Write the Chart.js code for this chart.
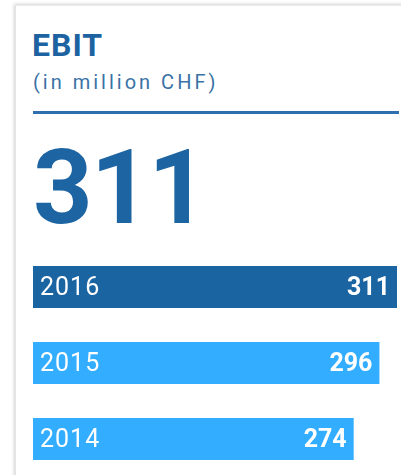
<!DOCTYPE html>
<html>
<head>
<meta charset="utf-8">
<script src="https://cdn.jsdelivr.net/npm/chart.js@4"></script>
<style>
  html, body { margin:0; padding:0; width:401px; height:475px; overflow:hidden; background:#fff; }
  .card { position:absolute; left:15px; top:5px; width:400px; height:480px; background:#fff;
          box-shadow: -1px -1px 3px rgba(0,0,0,0.18); border-left:1px solid #e4e4e4; border-top:1px solid #ececec; }
  .title { position:absolute; left:32px; top:26px; font:700 32px Roboto, sans-serif; color:#1d63a1; letter-spacing:1px; }
  .sub { position:absolute; left:33px; top:70px; font:400 20px Roboto, sans-serif; color:#3a72a6; letter-spacing:3px; }
  .rule { position:absolute; left:33px; top:111px; width:366px; height:3px; background:#2f6fae; }
  .big { position:absolute; left:33px; top:128px; font:700 104px Roboto, sans-serif; color:#1c64a2; letter-spacing:-2px; line-height:120px; }
  #wrap { position:absolute; left:0; top:249px; width:401px; height:228px; }
</style>
</head>
<body>
<div class="card"></div>
<div class="title">EBIT</div>
<div class="sub">(in million CHF)</div>
<div class="rule"></div>
<div class="big">311</div>
<div id="wrap"><canvas id="c"></canvas></div>
<script>
const categories = ['2016', '2015', '2014'];
const values = [311, 296, 274];
const barColors = ['#1a64a2', '#33adff', '#33adff'];

const labelPlugin = {
  id: 'barLabels',
  afterDatasetsDraw(chart) {
    const ctx = chart.ctx;
    const meta = chart.getDatasetMeta(0);
    ctx.save();
    ctx.fillStyle = '#ffffff';
    ctx.textBaseline = 'middle';
    meta.data.forEach((bar, i) => {
      const y = bar.y + 2;
      ctx.font = '400 25px Roboto, sans-serif';
      ctx.letterSpacing = '1px';
      ctx.textAlign = 'left';
      ctx.fillText(categories[i], bar.base + 7, y);
      ctx.font = '700 25px Roboto, sans-serif';
      ctx.letterSpacing = '0px';
      ctx.textAlign = 'right';
      ctx.fillText(String(values[i]), bar.x - 7, y);
    });
    ctx.restore();
  }
};

new Chart(document.getElementById('c'), {
  type: 'bar',
  data: {
    labels: categories,
    datasets: [{
      data: values,
      backgroundColor: barColors,
      borderWidth: 0,
      barPercentage: 0.553,
      categoryPercentage: 1.0
    }]
  },
  options: {
    indexAxis: 'y',
    responsive: true,
    maintainAspectRatio: false,
    animation: false,
    layout: { padding: { left: 33, right: 4, top: 0, bottom: 0 } },
    plugins: { legend: { display: false }, tooltip: { enabled: false } },
    scales: {
      x: { display: false, min: 0, max: 311 },
      y: { display: false }
    }
  },
  plugins: [labelPlugin]
});
</script>
</body>
</html>
